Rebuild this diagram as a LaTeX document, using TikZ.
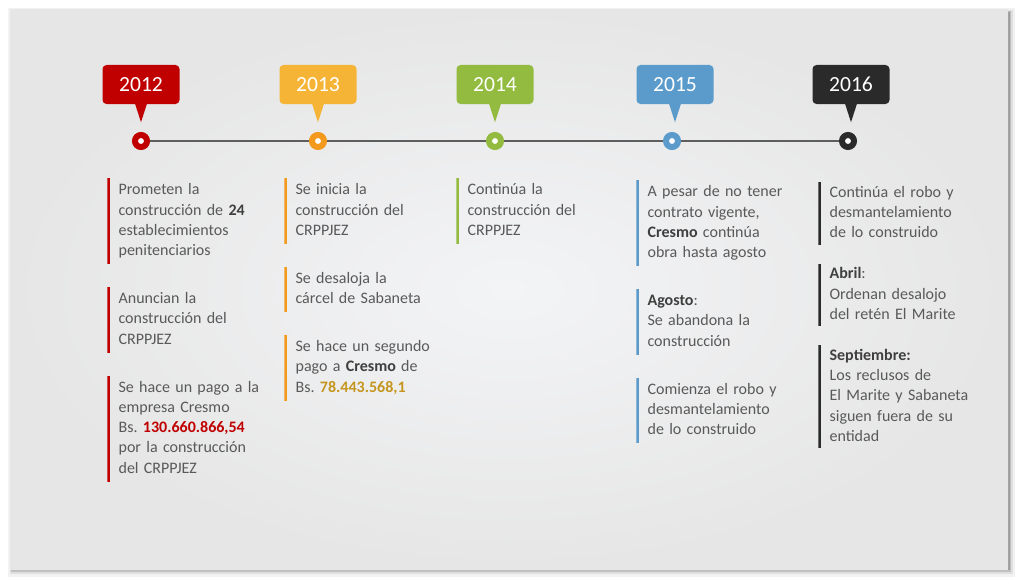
\documentclass[tikz,border=0pt]{standalone}
\usepackage{fontspec}
\setmainfont{Carlito}
\usepackage{xcolor}
\usepackage{tikz}
\usetikzlibrary{positioning}
\definecolor{tlred}{HTML}{C00000}
\definecolor{tlgoldbox}{HTML}{F5B436}
\definecolor{tlorange}{HTML}{F39A1E}
\definecolor{tlgreen}{HTML}{92BB3F}
\definecolor{tlblue}{HTML}{5B9BCB}
\definecolor{tlblack}{HTML}{2A2A2A}
\definecolor{tlgold}{HTML}{C5961F}
\definecolor{tltext}{HTML}{595959}
\definecolor{tldark}{HTML}{3F3F3F}
\definecolor{tlline}{HTML}{5E5E5E}
\definecolor{tlinner}{HTML}{F3F4F6}
\definecolor{tlouter}{HTML}{E6E6E6}
\newcommand{\tlbold}[1]{\textcolor{tldark}{\textbf{#1}}}
\frenchspacing
\tikzset{
  yearbox/.style={rounded corners=3pt, text=white, font=\fontsize{16.2}{18}\selectfont, minimum width=57.75pt, minimum height=29.25pt, inner sep=0pt},
  dotnode/.style={circle, draw=#1, fill=white, line width=4.5pt, minimum size=9pt, inner sep=0pt},
  eventnode/.style={align=left, text width=112pt, inner xsep=8.5pt, inner ysep=1.8pt, text=tltext, font=\fontsize{12}{15.2}\selectfont, execute at begin node=\strut, execute at end node=\strut,
    path picture={\fill[#1] (path picture bounding box.north west) rectangle ([xshift=2.25pt]path picture bounding box.south west);}},
  timeline/.style={line width=1.5pt, draw=tlline}
}

\begin{document}
\begin{tikzpicture}[x=0.75pt, y=-0.75pt, node distance=16.8pt]
  \useasboundingbox (0,0) rectangle (1024,585);
  % panel with soft shadow
  \fill[black, opacity=0.05] (8,8) rectangle (1015,577);
  \fill[black, opacity=0.08] (10,10) rectangle (1013,574);
  \fill[black, opacity=0.14] (11,11) rectangle (1011,572);
  \fill[black, opacity=0.2] (12,12) rectangle (1010,570);
  \shade[inner color=tlinner, outer color=tlouter] (10,10) rectangle (1008,569);

  % years
  \node[yearbox, fill=tlred] (y2012) at (141,84.5) {2012};
  \node[yearbox, fill=tlgoldbox] (y2013) at (318,84.5) {2013};
  \node[yearbox, fill=tlgreen] (y2014) at (495,84.5) {2014};
  \node[yearbox, fill=tlblue] (y2015) at (675,84.5) {2015};
  \node[yearbox, fill=tlblack] (y2016) at (851,84.5) {2016};
  \fill[tlred] ([xshift=-4.5pt,yshift=0.5pt]y2012.south) -- ([xshift=4.5pt,yshift=0.5pt]y2012.south) -- ([yshift=-13.5pt]y2012.south) -- cycle;
  \fill[tlgoldbox] ([xshift=-4.5pt,yshift=0.5pt]y2013.south) -- ([xshift=4.5pt,yshift=0.5pt]y2013.south) -- ([yshift=-13.5pt]y2013.south) -- cycle;
  \fill[tlgreen] ([xshift=-4.5pt,yshift=0.5pt]y2014.south) -- ([xshift=4.5pt,yshift=0.5pt]y2014.south) -- ([yshift=-13.5pt]y2014.south) -- cycle;
  \fill[tlblue] ([xshift=-4.5pt,yshift=0.5pt]y2015.south) -- ([xshift=4.5pt,yshift=0.5pt]y2015.south) -- ([yshift=-13.5pt]y2015.south) -- cycle;
  \fill[tlblack] ([xshift=-4.5pt,yshift=0.5pt]y2016.south) -- ([xshift=4.5pt,yshift=0.5pt]y2016.south) -- ([yshift=-13.5pt]y2016.south) -- cycle;

  % timeline
  \node[dotnode=tlred] (d2012) at (141,141) {};
  \node[dotnode=tlorange] (d2013) at (318,141) {};
  \node[dotnode=tlgreen] (d2014) at (495,141) {};
  \node[dotnode=tlblue] (d2015) at (672,141) {};
  \node[dotnode=tlblack] (d2016) at (848,141) {};
  \draw[timeline] (d2012) -- (d2013);
  \draw[timeline] (d2013) -- (d2014);
  \draw[timeline] (d2014) -- (d2015);
  \draw[timeline] (d2015) -- (d2016);

  % 2012
  \node[eventnode=tlred, anchor=north west] (e2012a) at (107,178) {Prometen la\\construcción de \tlbold{24}\\establecimientos\\penitenciarios};
  \node[eventnode=tlred, below=of e2012a.south west, anchor=north west] (e2012b) {Anuncian la\\construcción del\\CRPPJEZ};
  \node[eventnode=tlred, below=of e2012b.south west, anchor=north west] (e2012c) {Se hace un pago a la\\empresa Cresmo\\Bs. \textcolor{tlred}{\textbf{130.660.866,54}}\\por la construcción\\del CRPPJEZ};
  % 2013
  \node[eventnode=tlorange, anchor=north west] (e2013a) at (284,178) {Se inicia la\\construcción del\\CRPPJEZ};
  \node[eventnode=tlorange, below=of e2013a.south west, anchor=north west] (e2013b) {Se desaloja\ la\\cárcel de Sabaneta};
  \node[eventnode=tlorange, below=of e2013b.south west, anchor=north west] (e2013c) {Se hace un segundo\\pago a \tlbold{Cresmo} de\\Bs. \textcolor{tlgold}{\textbf{78.443.568,1}}};
  % 2014
  \node[eventnode=tlgreen, anchor=north west] (e2014a) at (456,178) {Continúa la\\construcción del\\CRPPJEZ};
  % 2015
  \node[eventnode=tlblue, anchor=north west] (e2015a) at (636,180) {A pesar de no tener\\contrato vigente,\\\tlbold{Cresmo} continúa\\obra hasta agosto};
  \node[eventnode=tlblue, below=of e2015a.south west, anchor=north west] (e2015b) {\tlbold{Agosto}:\\Se abandona\ la\\construcción};
  \node[eventnode=tlblue, below=of e2015b.south west, anchor=north west] (e2015c) {Comienza el robo y\\desmantelamiento\\de lo construido};
  % 2016
  \node[eventnode=tlblack, inner ysep=0.6pt, anchor=north west] (e2016a) at (818,182) {Continúa el robo y\\desmantelamiento\\de lo construido};
  \node[eventnode=tlblack, inner ysep=0.6pt, below=14pt of e2016a.south west, anchor=north west] (e2016b) {\tlbold{Abril}:\\Ordenan desalojo\\del retén\ El Marite};
  \node[eventnode=tlblack, inner ysep=0.6pt, below=14pt of e2016b.south west, anchor=north west] (e2016c) {\tlbold{Septiembre:}\\Los reclusos de\\El Marite y Sabaneta\\siguen fuera de su\\entidad};
\end{tikzpicture}
\end{document}
